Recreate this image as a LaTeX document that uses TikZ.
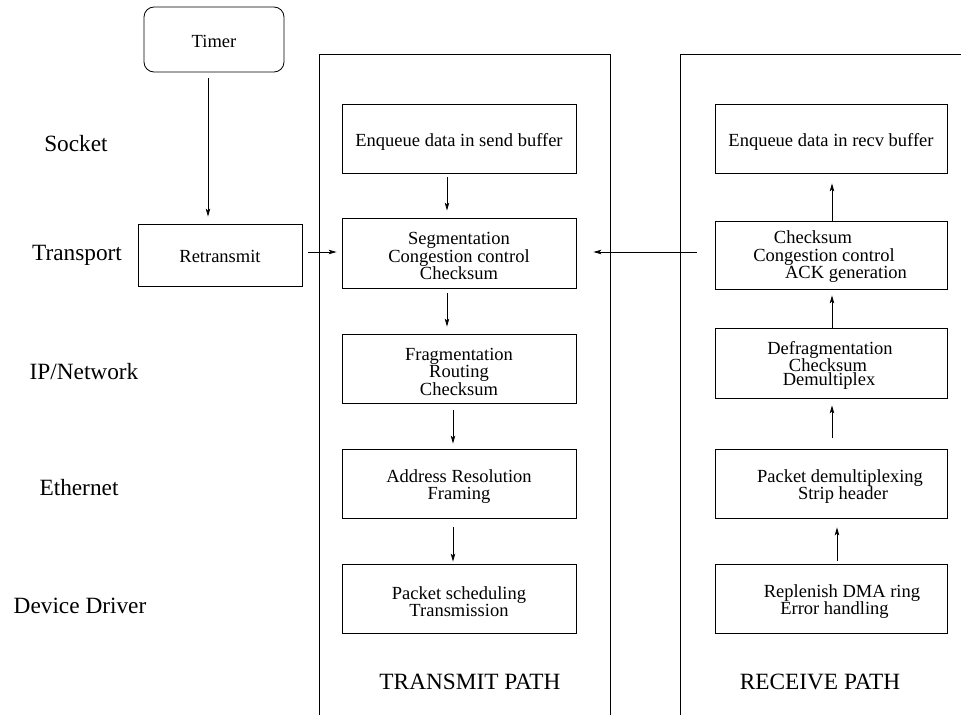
\documentclass[tikz,border=0pt]{standalone}
\usepackage{fontspec}
\setmainfont{Liberation Serif}
\usetikzlibrary{arrows.meta,calc}
% one line of a multi-line box label, moved sideways by half of #1
\newcommand\offl[2]{\makebox[0pt][c]{\hspace*{#1}#2}}
\begin{document}
\begin{tikzpicture}[x=1pt,y=-1pt,
  lw/.style={line width=0.8pt},
  boxfont/.style={font=\fontsize{18.5}{17.5}\selectfont},
  txt/.style={boxfont,align=center,inner sep=0pt,yshift=-3pt},
  stage/.style={draw,lw,inner sep=0pt,minimum width=234pt,minimum height=69pt},
  rstage/.style={stage,minimum width=232pt},
  layer/.style={font=\fontsize{23.3}{26}\selectfont},
  arr/.style={lw,-{Stealth[length=8pt,width=4.5pt,inset=2pt]}}
]
\useasboundingbox (0,0) rectangle (961,715);

% the two path frames, open at the bottom
\draw[lw] (319,715) -- (319,54) -- (610,54) -- (610,715);
\draw[lw] (680,715) -- (680,54) -- (961,54);

% layer names
\node[layer] (lsock) at (76,144) {Socket};
\node[layer] (ltran) at (77,255) {Transport};
\node[layer] (lip)   at (84,372) {IP/Network};
\node[layer] (leth)  at (79,488) {Ethernet};
\node[layer] (ldev)  at (80,606) {Device Driver};

% timer and retransmission
\node[stage,rounded corners=10pt,minimum width=140pt,minimum height=65pt,
  label={[txt,yshift=1pt]center:Timer}] (timer) at (214,39.5) {};
\node[stage,minimum width=164pt,minimum height=62pt,
  label={[txt,yshift=2pt]center:Retransmit}] (retx) at (220,255) {};

% transmit path
\node[stage,label={[txt]center:Enqueue data in send buffer}] (send) at (459,138.5) {};
\node[stage,minimum height=70pt,
  label={[txt]center:Segmentation\\Congestion control\\Checksum}] (seg) at (459,253) {};
\node[stage,label={[txt]center:Fragmentation\\Routing\\Checksum}] (frag) at (459,368.5) {};
\node[stage,label={[txt]center:Address Resolution\\Framing}] (addr) at (459,483.5) {};
\node[stage,label={[txt]center:Packet scheduling\\Transmission}] (sched) at (459,598.5) {};
\node[layer] (tpath) at (470,682) {TRANSMIT PATH};

% receive path
\node[rstage,label={[txt]center:Enqueue data in recv buffer}] (recv) at (831,138.5) {};
\node[rstage,minimum height=68pt,
  label={[txt,yshift=1pt]center:\offl{-36pt}{Checksum}\\\offl{-14pt}{Congestion control}\\\offl{30pt}{ACK generation}}]
  (chk) at (831,255) {};
\node[rstage,minimum height=70pt,
  label={[txt,yshift=1pt]center:\offl{-2pt}{Defragmentation}\\\offl{-6pt}{Checksum}\\[-4pt]\offl{-4pt}{Demultiplex}}]
  (defrag) at (831,363) {};
\node[rstage,label={[txt]center:\offl{18pt}{Packet demultiplexing}\\\offl{24pt}{Strip header}}]
  (demux) at (831,483.5) {};
\node[rstage,label={[txt]center:\offl{22pt}{Replenish DMA ring}\\\offl{7pt}{Error handling}}]
  (repl) at (831,598.5) {};
\node[layer] (rpath) at (820,682) {RECEIVE PATH};

% connector columns and row
\coordinate (ctim) at (208,0);
\coordinate (ctx1) at (447,0);
\coordinate (ctx2) at (453,0);
\coordinate (crx1) at (832,0);
\coordinate (crx2) at (837,0);
\coordinate (rtr)  at (0,252);

% connectors
\draw[arr,shorten <=6pt,shorten >=7pt] (timer.south -| ctim) -- (retx.north -| ctim);
\draw[arr,shorten <=6pt,shorten >=5pt] (retx.east |- rtr) -- (seg.west |- rtr);
\draw[arr,shorten <=18pt,shorten >=17pt] (chk.west |- rtr) -- (seg.east |- rtr);

\draw[arr,shorten <=4pt,shorten >=7pt] (send.south -| ctx1) -- (seg.north -| ctx1);
\draw[arr,shorten <=5pt,shorten >=7pt] (seg.south -| ctx1) -- (frag.north -| ctx1);
\draw[arr,shorten <=7pt,shorten >=5pt] (frag.south -| ctx2) -- (addr.north -| ctx2);
\draw[arr,shorten <=9pt,shorten >=2pt] (addr.south -| ctx2) -- (sched.north -| ctx2);

\draw[arr,shorten <=3pt,shorten >=9pt] (repl.north -| crx2) -- (demux.south -| crx2);
\draw[arr,shorten <=11pt,shorten >=7pt] (demux.north -| crx1) -- (defrag.south -| crx1);
\draw[arr,shorten >=6pt] (defrag.north -| crx1) -- (chk.south -| crx1);
\draw[arr,shorten >=10pt] (chk.north -| crx1) -- (recv.south -| crx1);
\end{tikzpicture}
\end{document}
